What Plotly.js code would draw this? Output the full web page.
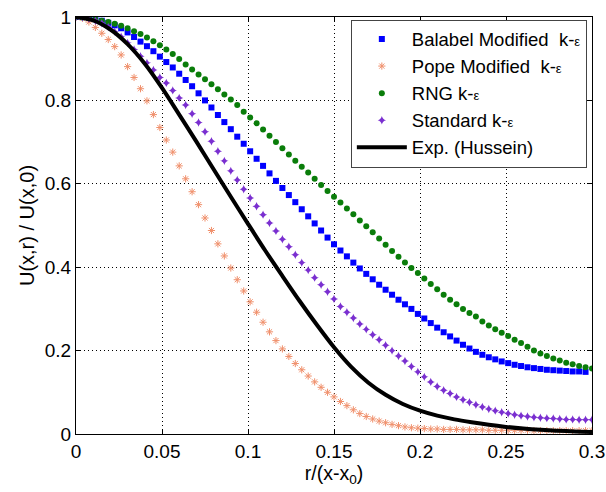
<!DOCTYPE html>
<html>
<head>
<meta charset="utf-8">
<script src="https://cdn.plot.ly/plotly-3.0.1.min.js"></script>
<style>
html,body{margin:0;padding:0;background:#fff;}
#chart{width:606px;height:492px;}
</style>
</head>
<body>
<div id="chart"></div>
<script>
// shared x grid for the marker series r/(x-x0)
const xPts = [
0,0.00375,0.0075,0.01125,0.015,0.01875,0.0225,0.02625,0.03,0.03375,
0.0375,0.04125,0.045,0.04875,0.0525,0.05625,0.06,0.06375,0.0675,0.07125,
0.075,0.07875,0.0825,0.08625,0.09,0.09375,0.0975,0.10125,0.105,0.10875,
0.1125,0.11625,0.12,0.12375,0.1275,0.13125,0.135,0.13875,0.1425,0.14625,
0.15,0.15375,0.1575,0.16125,0.165,0.16875,0.1725,0.17625,0.18,0.18375,
0.1875,0.19125,0.195,0.19875,0.2025,0.20625,0.21,0.21375,0.2175,0.22125,
0.225,0.22875,0.2325,0.23625,0.24,0.24375,0.2475,0.25125,0.255,0.25875,
0.2625,0.26625,0.27,0.27375,0.2775,0.28125,0.285,0.28875,0.2925,0.29625,0.3];

const balabel = [
1.000,1.000,0.998,0.995,0.991,0.986,0.980,0.973,0.963,0.952,
0.941,0.930,0.918,0.905,0.892,0.879,0.864,0.849,0.834,0.817,
0.800,0.783,0.765,0.748,0.731,0.713,0.696,0.678,0.660,0.643,
0.625,0.607,0.590,0.573,0.556,0.539,0.522,0.505,0.488,0.471,
0.455,0.440,0.426,0.411,0.397,0.384,0.371,0.358,0.346,0.334,
0.322,0.311,0.300,0.288,0.277,0.266,0.255,0.244,0.234,0.224,
0.214,0.205,0.197,0.190,0.184,0.179,0.174,0.170,0.166,0.163,
0.160,0.158,0.156,0.154,0.153,0.152,0.151,0.150,0.150,0.149,0.000];

const pope = [
1.000,0.997,0.988,0.975,0.961,0.946,0.929,0.909,0.881,0.855,
0.828,0.799,0.766,0.735,0.705,0.676,0.643,0.612,0.581,0.550,
0.518,0.488,0.456,0.427,0.398,0.370,0.343,0.317,0.292,0.268,
0.245,0.224,0.204,0.186,0.169,0.154,0.139,0.125,0.112,0.100,
0.089,0.078,0.068,0.058,0.049,0.042,0.036,0.031,0.027,0.023,
0.020,0.017,0.015,0.014,0.013,0.012,0.012,0.011,0.011,0.011,
0.010,0.010,0.010,0.010,0.009,0.009,0.009,0.009,0.009,0.009,
0.009,0.008,0.008,0.008,0.008,0.008,0.008,0.008,0.008,0.008,0.008];

const rng = [
1.000,0.999,0.997,0.994,0.991,0.988,0.984,0.979,0.973,0.966,
0.959,0.951,0.942,0.932,0.922,0.911,0.899,0.886,0.874,0.862,
0.851,0.839,0.827,0.814,0.802,0.789,0.773,0.759,0.745,0.730,
0.715,0.700,0.685,0.670,0.655,0.641,0.627,0.612,0.597,0.583,
0.569,0.555,0.541,0.527,0.512,0.498,0.484,0.469,0.454,0.439,
0.425,0.411,0.398,0.386,0.373,0.360,0.347,0.334,0.322,0.311,
0.300,0.290,0.282,0.270,0.260,0.251,0.243,0.235,0.226,0.218,
0.209,0.200,0.193,0.187,0.181,0.176,0.171,0.167,0.163,0.160,0.157];

const standard = [
1.000,0.999,0.996,0.991,0.985,0.976,0.965,0.953,0.938,0.922,
0.906,0.890,0.873,0.855,0.842,0.824,0.806,0.789,0.768,0.747,
0.725,0.702,0.678,0.655,0.631,0.609,0.587,0.566,0.546,0.526,
0.506,0.487,0.467,0.449,0.430,0.411,0.393,0.375,0.358,0.341,
0.324,0.306,0.292,0.278,0.264,0.251,0.238,0.226,0.213,0.200,
0.187,0.175,0.162,0.149,0.137,0.125,0.114,0.105,0.097,0.089,
0.082,0.076,0.070,0.065,0.060,0.056,0.052,0.049,0.046,0.044,
0.042,0.040,0.039,0.038,0.037,0.036,0.035,0.035,0.034,0.034,0.034];

// experimental profile (Hussein)
const expX = [0,0.01,0.02,0.03,0.04,0.05,0.06,0.07,0.08,0.09,0.10,0.11,0.12,0.13,0.14,0.15,
0.16,0.17,0.18,0.19,0.20,0.21,0.22,0.23,0.24,0.25,0.26,0.27,0.28,0.29,0.30];
const expY = [1.000,0.992,0.970,0.935,0.888,0.830,0.766,0.701,0.635,0.569,0.504,0.440,0.379,0.319,0.262,0.208,
0.161,0.123,0.094,0.072,0.056,0.044,0.035,0.028,0.022,0.017,0.013,0.010,0.008,0.006,0.005];

const xTicks = [0,0.05,0.1,0.15,0.2,0.25,0.3];
const xTickText = ['0','0.05','0.1','0.15','0.2','0.25','0.3'];
const yTicks = [0,0.2,0.4,0.6,0.8,1];
const yTickText = ['0','0.2','0.4','0.6','0.8','1'];

const eps = 'k-<span style="font-size:13px">ε</span>';
const names = ['Balabel Modified\u00A0 ' + eps, 'Pope Modified\u00A0 ' + eps, 'RNG ' + eps, 'Standard ' + eps, 'Exp. (Hussein)'];

const traces = [
  {x:xPts, y:balabel, name:names[0], mode:'markers', type:'scatter',
   marker:{symbol:'square', size:6, color:'#0000ff'}},
  {x:xPts, y:pope, name:names[1], mode:'markers', type:'scatter',
   marker:{symbol:'asterisk-open', size:6, color:'#f0906c', line:{color:'#f0906c', width:1}}},
  {x:xPts, y:rng, name:names[2], mode:'markers', type:'scatter',
   marker:{symbol:'circle', size:6, color:'#0a7d0a'}},
  {x:xPts, y:standard, name:names[3], mode:'markers', type:'scatter',
   marker:{symbol:'star-diamond', size:6, color:'#7a2fd0'}},
  {x:expX, y:expY, name:names[4], mode:'lines', type:'scatter',
   line:{color:'#000', width:4, shape:'spline', smoothing:0.8}}
];

const fam = '"Liberation Sans", Arial, sans-serif';
const font = {family:fam, size:19, color:'#000'};

const layout = {
  width:606, height:492,
  margin:{l:76, r:14, t:17, b:58},
  paper_bgcolor:'#fff', plot_bgcolor:'#fff',
  font:font,
  showlegend:true,
  legend:{x:0.990, xanchor:'right', y:0.994, yanchor:'top',
          itemwidth:50,
          bgcolor:'#fff', bordercolor:'#444', borderwidth:1,
          font:{family:fam, size:18.5, color:'#000'}},
  xaxis:{range:[0,0.3], tickvals:xTicks, ticktext:xTickText,
         ticklabeloverflow:'allow',
         showgrid:true, gridcolor:'#000', griddash:'1px,3px', gridwidth:1,
         zeroline:false, showline:true, linecolor:'#000', linewidth:1, mirror:'ticks',
         ticks:'inside', ticklen:5, tickcolor:'#000',
         tickfont:font,
         title:{text:'r/(x-x<sub>0</sub>)', font:{family:fam, size:19.5, color:'#000'}, standoff:2}},
  yaxis:{range:[0,1], tickvals:yTicks, ticktext:yTickText,
         ticklabeloverflow:'allow',
         showgrid:true, gridcolor:'#000', griddash:'1px,3px', gridwidth:1,
         zeroline:false, showline:true, linecolor:'#000', linewidth:1, mirror:'ticks',
         ticks:'inside', ticklen:5, tickcolor:'#000',
         tickfont:font,
         title:{text:'U(x,r) / U(x,0)', font:{family:fam, size:20, color:'#000'}, standoff:4}}
};

Plotly.newPlot('chart', traces, layout, {displayModeBar:false, staticPlot:true});
</script>
</body>
</html>
